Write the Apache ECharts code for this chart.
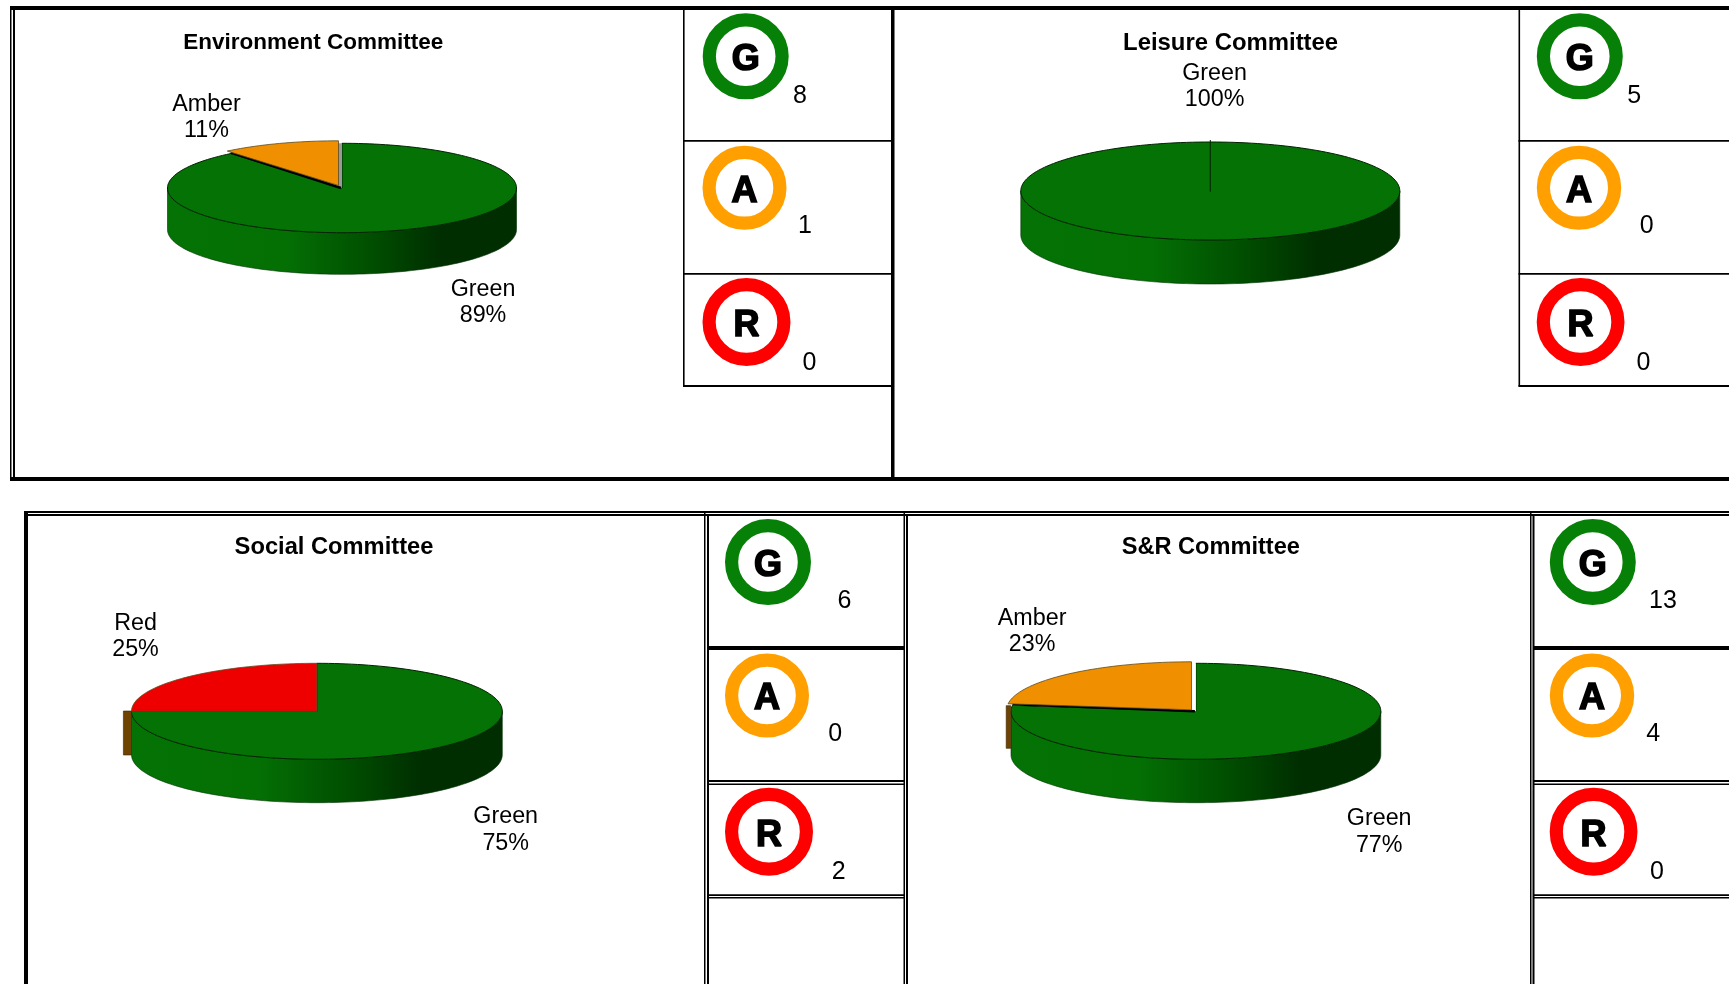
<!DOCTYPE html>
<html>
<head>
<meta charset="utf-8">
<title>Committee RAG status</title>
<style>html,body{margin:0;padding:0;background:#fff}#c{width:1729px;height:984px}</style>
<script src="https://cdn.jsdelivr.net/npm/echarts@6/dist/echarts.min.js"></script>
</head>
<body>
<div id="c"></div>
<script>
// ---- data ----
const committees = ['Environment Committee', 'Leisure Committee', 'Social Committee', 'S&R Committee'];
const statusNames = ['Green', 'Amber', 'Red'];
const statusLetters = ['G', 'A', 'R'];
const greenPercent = [89, 100, 75, 77];
const amberPercent = [11, 0, 0, 23];
const redPercent = [0, 0, 25, 0];
const greenCounts = [8, 5, 6, 13];
const amberCounts = [1, 0, 0, 4];
const redCounts = [0, 0, 2, 0];

// ---- styling ----
const FONT = '"Liberation Sans", Arial, sans-serif';
const faceColors = { Green: '#047204', Amber: '#f09000', Red: '#ee0000' };
const ringColors = ['#078007', '#ff9f00', '#ff0000'];
const wallGradient = {
  type: 'linear', x: 0, y: 0, x2: 1, y2: 0,
  colorStops: [
    { offset: 0, color: '#047204' }, { offset: 0.34, color: '#047004' },
    { offset: 0.6, color: '#004c00' }, { offset: 0.78, color: '#002e00' }, { offset: 1, color: '#002e00' }
  ]
};

// ---- layout ----
const panels = [
  { title: [284 * 1.1027, 43], titleSize: 22.5, pie: { cx: 342, cy: 188, rx: 174.5, ry: 44.7, depth: 41.6 },
    offset: [-3.5, -2.5], gap: '#9a9a9a', stub: null,
    labels: { Green: [483, 289.5], Amber: [206.5, 104.5] },
    rings: [[745.7, 56.3, 43, 43], [744.5, 187.8, 42, 42], [746.5, 322, 44, 44]],
    nums: [[800, 96.5], [805, 226], [809.4, 363.5]] },
  { title: [1230.6, 43], titleSize: 23.9, pie: { cx: 1210.3, cy: 191, rx: 189.5, ry: 49, depth: 44 },
    offset: [0, 0], gap: null, stub: null,
    labels: { Green: [1214.6, 73.5] },
    rings: [[1579.8, 56.3, 43, 43], [1579, 187.8, 42.2, 42], [1580.6, 322, 43.9, 44]],
    nums: [[1634.2, 96.5], [1646.7, 226], [1643.4, 363.5]] },
  { title: [334, 547.7], titleSize: 23.7, pie: { cx: 316.9, cy: 711.3, rx: 185.4, ry: 48, depth: 43.4 },
    offset: [0, 0], gap: null, stub: [123.4, 711, 8.1, 44],
    labels: { Green: [505.7, 817], Red: [135.5, 623.5] },
    rings: [[768, 562, 43, 43], [767, 695.5, 42, 42], [769, 831.7, 44, 44]],
    nums: [[844.4, 601], [835.3, 734.5], [838.7, 872.5]] },
  { title: [1210.8, 547.7], titleSize: 23.6, pie: { cx: 1195.9, cy: 711.3, rx: 184.9, ry: 48, depth: 43.4 },
    offset: [-4.4, -1.5], gap: '#ffffff', stub: [1006.2, 705.7, 4.6, 42.6],
    labels: { Green: [1379.2, 818.7], Amber: [1032.1, 618.2] },
    rings: [[1592.8, 562, 43, 43], [1592, 695.5, 42.2, 42], [1593.6, 831.7, 43.9, 44]],
    nums: [[1662.9, 601], [1653.2, 734.5], [1657, 872.5]] }
];
const LABEL_LINE = 26.4;

const ruleRects = [
  // upper table
  [10, 6, 1719, 4], [10, 477, 1719, 4], [10, 6, 1.5, 475], [13, 6, 2, 475], [891, 6, 3.5, 475],
  [683, 8, 1.6, 378.5], [683, 140, 208, 1.7], [683, 273, 208, 1.7], [683, 385, 208, 2],
  [1518.5, 8, 1.6, 378.5], [1518.5, 140, 211, 1.7], [1518.5, 273, 211, 1.7], [1518.5, 385, 211, 2],
  // lower table
  [24, 511, 1705, 2], [24, 514, 1705, 2], [24, 511, 4, 473],
  [704, 511, 1.5, 473], [707, 514, 2, 470], [903.5, 511, 1.5, 473], [906, 514, 2, 470],
  [1530, 511, 1.5, 473], [1532.5, 514, 2, 470],
  [707, 646, 197, 4], [707, 780, 197, 2], [707, 783.5, 197, 1.5], [707, 894.3, 197, 1.6], [707, 897, 197, 1.6],
  [1533, 646, 196, 4], [1533, 780, 196, 2], [1533, 783.5, 196, 1.5], [1533, 894.3, 196, 1.6], [1533, 897, 196, 1.6]
];

// ---- geometry helpers (clockwise from 12 o'clock, in percent of a full turn) ----
function pt(p, pct, dx, dy) {
  const a = pct / 100 * 2 * Math.PI;
  return [p.cx + (dx || 0) + Math.sin(a) * p.rx, p.cy + (dy || 0) - Math.cos(a) * p.ry];
}
function arcPoints(p, from, to, dx, dy) {
  const out = [], n = Math.max(2, Math.ceil((to - from) * 2));
  for (let i = 0; i <= n; i++) out.push(pt(p, from + (to - from) * i / n, dx, dy));
  return out;
}

function pieRenderer(panelIndex, rows) {
  const panel = panels[panelIndex], p = panel.pie;
  return function (params, api) {
    const pct = api.value(1), name = rows[params.dataIndex].name;
    let start = 0;
    for (let i = 0; i < params.dataIndex; i++) start += rows[i].value[1];
    const end = start + pct, children = [];
    const major = params.dataIndex === 0;
    const dx = major ? 0 : panel.offset[0], dy = major ? 0 : panel.offset[1];

    if (major) {
      // cylinder wall, only the front half of the ring shows
      const from = Math.max(start, 25), to = Math.min(end, 75);
      const front = arcPoints(p, from, to);
      const back = front.slice().reverse().map(q => [q[0], q[1] + p.depth]);
      children.push({ type: 'polygon', shape: { points: front.concat(back) },
        style: { fill: wallGradient, stroke: '#003000', lineWidth: 0.6 } });
    } else {
      if (panel.stub) {
        children.push({ type: 'rect', shape: { x: panel.stub[0], y: panel.stub[1], width: panel.stub[2], height: panel.stub[3] },
          style: { fill: '#6e4200', stroke: '#3a2400', lineWidth: 0.6 } });
      }
      if (panel.gap) {
        // hole left in the green face by the pulled-out slice
        children.push({ type: 'polygon', shape: { points: [[p.cx, p.cy]].concat(arcPoints(p, start, end)) },
          style: { fill: panel.gap } });
        const lo = pt(p, start);
        children.push({ type: 'line', shape: { x1: p.cx - 1, y1: p.cy, x2: lo[0], y2: lo[1] - 1 },
          style: { stroke: '#000', lineWidth: 2.6 } });
      }
    }
    const apex = [p.cx + dx, p.cy + dy];
    const face = pct >= 100 ? arcPoints(p, 0, 100) : [apex].concat(arcPoints(p, start, end, dx, dy));
    children.push({ type: 'polygon', shape: { points: face },
      style: { fill: faceColors[name], stroke: major ? '#022202' : '#5a4a20', lineWidth: major ? 1 : 0.8 } });
    if (pct >= 100) {
      children.push({ type: 'line', shape: { x1: p.cx, y1: p.cy - p.ry - 2, x2: p.cx, y2: p.cy + 0.7 },
        style: { stroke: '#022202', lineWidth: 1 } });
    }
    // data label
    const lp = panel.labels[name];
    children.push({ type: 'text', style: { text: name, x: lp[0], y: lp[1], fill: '#000', font: '23.3px ' + FONT, align: 'center', verticalAlign: 'middle' }, z2: 5 });
    children.push({ type: 'text', style: { text: pct + '%', x: lp[0], y: lp[1] + LABEL_LINE, fill: '#000', font: '23.3px ' + FONT, align: 'center', verticalAlign: 'middle' }, z2: 5 });
    return { type: 'group', children };
  };
}

function ringRenderer(panelIndex) {
  const panel = panels[panelIndex];
  return function (params, api) {
    const i = params.dataIndex, r = panel.rings[i], n = panel.nums[i], sw = 13.2;
    return { type: 'group', children: [
      { type: 'ellipse', shape: { cx: r[0], cy: r[1], rx: r[2] - sw / 2, ry: r[3] - sw / 2 },
        style: { fill: '#fff', stroke: ringColors[i], lineWidth: sw } },
      { type: 'text', style: { text: statusLetters[i], x: r[0], y: r[1] + 4, fill: '#000', stroke: '#000', lineWidth: 1.6,
        font: 'bold 36px ' + FONT, align: 'center', verticalAlign: 'middle' } },
      { type: 'text', style: { text: String(api.value(0)), x: n[0], y: n[1], fill: '#000',
        font: '25px ' + FONT, align: 'center', verticalAlign: 'middle' } }
    ] };
  };
}

const series = [];
committees.forEach(function (name, k) {
  const rows = [
    { name: statusNames[0], value: [0, greenPercent[k]] },
    { name: statusNames[1], value: [1, amberPercent[k]] },
    { name: statusNames[2], value: [2, redPercent[k]] }
  ].filter(d => d.value[1] > 0);
  series.push({ type: 'custom', name: name, coordinateSystem: 'none', silent: true, animation: false,
    data: rows, renderItem: pieRenderer(k, rows) });
  series.push({ type: 'custom', name: name + ' counts', coordinateSystem: 'none', silent: true, animation: false,
    data: [greenCounts[k], amberCounts[k], redCounts[k]], renderItem: ringRenderer(k) });
});

const chart = echarts.init(document.getElementById('c'), null, { renderer: 'canvas' });
chart.setOption({
  backgroundColor: '#fff',
  animation: false,
  tooltip: { show: false },
  graphic: {
    elements: ruleRects.map(r => ({ type: 'rect', silent: true, shape: { x: r[0], y: r[1], width: r[2], height: r[3] }, style: { fill: '#000' } }))
      .concat(committees.map((t, k) => ({ type: 'text', silent: true, x: panels[k].title[0], y: panels[k].title[1],
        style: { text: t, fill: '#000', font: 'bold ' + panels[k].titleSize + 'px ' + FONT, align: 'center', verticalAlign: 'middle' } })))
  },
  series: series
});
</script>
</body>
</html>
